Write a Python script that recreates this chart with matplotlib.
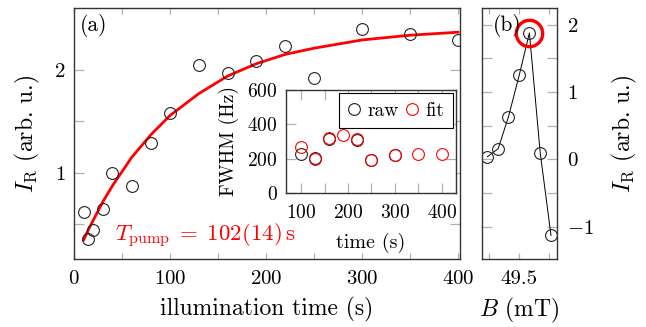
import matplotlib
matplotlib.use("Agg")
import matplotlib.pyplot as plt
import numpy as np

plt.rcParams['font.family'] = 'serif'
plt.rcParams['font.serif'] = ['cmr10']
plt.rcParams['mathtext.fontset'] = 'cm'
plt.rcParams['axes.formatter.use_mathtext'] = True
plt.rcParams['axes.unicode_minus'] = True

# ---- data panel (a) ----
t_raw = [10, 15, 20, 30, 40, 60, 80, 100, 130, 160, 190, 220, 250, 300, 350, 400]
I_raw = [0.62, 0.36, 0.45, 0.65, 1.00, 0.87, 1.29, 1.58, 2.05, 1.97, 2.09, 2.23, 1.92, 2.40, 2.35, 2.29]
t_fit = [10, 15, 20, 30, 40, 60, 80, 100, 130, 160, 190, 220, 250, 300, 350, 400]
I_fit = [0.35, 0.45, 0.54, 0.72, 0.875, 1.15, 1.37, 1.557, 1.77, 1.94, 2.06, 2.15, 2.21, 2.29, 2.336, 2.365]
fit_label = r'$T_{\rm pump}\;=\;102(14)\,{\rm s}$'

# ---- inset ----
t_fwhm_raw = [100, 130, 160, 220, 250, 300]
fwhm_raw = [230, 205, 315, 310, 195, 220]
t_fwhm_fit = [100, 130, 160, 190, 220, 250, 300, 350, 400]
fwhm_fit = [268, 200, 322, 340, 312, 194, 222, 228, 230]

# ---- panel (b) ----
B = [49.447, 49.465, 49.482, 49.500, 49.517, 49.535, 49.553]
I_B = [0.04, 0.16, 0.63, 1.25, 1.88, 0.10, -1.13]
highlight_idx = 4

W, H = 646, 327
fig = plt.figure(figsize=(W / 100, H / 100), dpi=100)

def ax_px(l, r, t, b):
    return fig.add_axes([l / W, (H - b) / H, (r - l) / W, (b - t) / H])

tick_col = '#b0b0b0'
def style(ax, xlen=4.0, ylen=7.0, lab=15):
    ax.tick_params(which='both', direction='in', top=True, right=True,
                   color=tick_col, width=0.9, labelsize=lab)
    ax.tick_params(axis='x', which='both', length=xlen)
    ax.tick_params(axis='y', which='both', length=ylen)
    for s in ax.spines.values():
        s.set_linewidth(1.0)
        s.set_color('#333333')

LAB = 17
MS = 8.5

# main axes
ax = ax_px(74, 460, 8, 259)
ax.plot(t_fit, I_fit, color='red', lw=2.0, zorder=2)
ax.plot(t_raw, I_raw, 'o', mfc='none', mec='#222222', ms=MS, mew=0.8, zorder=3)
ax.set_xlim(0, 402)
ax.set_ylim(0.165, 2.6)
ax.set_xticks([0, 100, 200, 300, 400])
ax.set_xticks([50, 150, 250, 350], minor=True)
ax.set_yticks([1, 2])
ax.set_yticks([0.5, 1.5], minor=True)
style(ax)
ax.tick_params(axis='x', pad=8)
ax.tick_params(axis='y', pad=6)
ax.set_xlabel('illumination time (s)', fontsize=LAB, labelpad=6)
ax.set_ylabel(r'$I_{\rm R}$ (arb. u.)', fontsize=LAB, labelpad=9)
ax.text(0.016, 0.975, '(a)', transform=ax.transAxes, fontsize=15.5, va='top', ha='left')
ax.text(0.106, 0.072, fit_label, transform=ax.transAxes, fontsize=16.5, color='red',
        va='baseline', ha='left')

# inset
ins = ax_px(286, 456, 90, 193)
ins.plot(t_fwhm_raw, fwhm_raw, 'o', mfc='none', mec='#222222', ms=MS, mew=0.8, label='raw')
ins.plot(t_fwhm_fit, fwhm_fit, 'o', mfc='none', mec='red', ms=MS, mew=0.8, label='fit')
ins.set_xlim(68, 430)
ins.set_ylim(0, 600)
ins.set_xticks([100, 200, 300, 400])
ins.set_xticks([150, 250, 350], minor=True)
ins.set_yticks([0, 200, 400, 600])
style(ins, xlen=7, ylen=7, lab=14)
ins.tick_params(axis='x', pad=8)
ins.tick_params(axis='y', pad=6)
ins.set_xlabel('time (s)', fontsize=14.5, labelpad=8)
ins.set_ylabel('FWHM (Hz)', fontsize=14, labelpad=6)
leg = ins.legend(loc='upper right', ncol=2, fontsize=14, handlelength=0.7,
                 handletextpad=0.35, columnspacing=0.3, borderpad=0.45,
                 fancybox=False, framealpha=1, edgecolor='black', borderaxespad=0.15)
leg.get_frame().set_linewidth(0.8)

# panel (b)
axb = ax_px(482, 557, 8, 259)
axb.plot(B, I_B, '-o', color='black', lw=0.7, mfc='none', mec='#222222', ms=MS, mew=0.8)
axb.plot([B[highlight_idx]], [I_B[highlight_idx]], 'o', mfc='none', mec='red', ms=19, mew=2.4)
axb.set_xlim(49.438, 49.563)
axb.set_ylim(-1.48, 2.25)
axb.set_xticks([49.5])
axb.set_xticks([49.45, 49.55], minor=True)
axb.set_xticklabels(['49.5'])
axb.set_yticks([-1, 0, 1, 2])
axb.set_yticks([-0.5, 0.5, 1.5], minor=True)
style(axb)
axb.tick_params(axis='x', pad=8)
axb.tick_params(axis='y', labelleft=False, labelright=True, pad=7)
axb.yaxis.set_label_position('right')
axb.set_ylabel(r'$I_{\rm R}$ (arb. u.)', fontsize=LAB, labelpad=12)
axb.set_xlabel(r'$B$ (mT)', fontsize=LAB, labelpad=6)
axb.text(0.14, 0.975, '(b)', transform=axb.transAxes, fontsize=15.5, va='top', ha='left')

fig.savefig('out.png', dpi=100)
